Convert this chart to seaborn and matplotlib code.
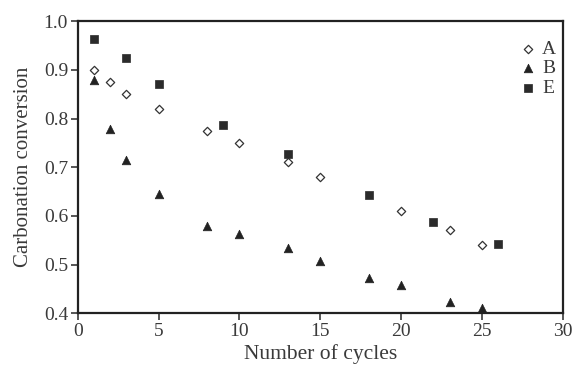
import pandas as pd
import matplotlib
matplotlib.use("Agg")
import matplotlib.pyplot as plt
import seaborn as sns

# cycles and carbonation conversion
cycles_a = [1, 2, 3, 5, 8, 10, 13, 15, 20, 23, 25]
conv_a = [0.900, 0.875, 0.850, 0.820, 0.775, 0.750, 0.710, 0.680, 0.610, 0.570, 0.540]

cycles_b = [1, 2, 3, 5, 8, 10, 13, 15, 18, 20, 23, 25]
conv_b = [0.880, 0.778, 0.715, 0.645, 0.580, 0.563, 0.533, 0.508, 0.473, 0.458, 0.422, 0.410]

cycles_e = [1, 3, 5, 9, 13, 18, 22, 26]
conv_e = [0.963, 0.925, 0.870, 0.787, 0.727, 0.643, 0.588, 0.543]

x_ticks = [0, 5, 10, 15, 20, 25, 30]
y_ticks = [0.4, 0.5, 0.6, 0.7, 0.8, 0.9, 1.0]

df = pd.concat([
    pd.DataFrame({"cycles": cycles_a, "conv": conv_a, "sample": "A"}),
    pd.DataFrame({"cycles": cycles_b, "conv": conv_b, "sample": "B"}),
    pd.DataFrame({"cycles": cycles_e, "conv": conv_e, "sample": "E"}),
], ignore_index=True)

sns.set_theme(style="white")
plt.rcParams["font.family"] = ["Liberation Serif", "DejaVu Serif"]

fig = plt.figure(figsize=(5.72, 3.65), dpi=100)
ax = fig.add_axes([0.136, 0.142, 0.848, 0.800])

styles = {
    "A": dict(marker="D", s=18, facecolor="white", edgecolor="#333333", linewidth=0.9),
    "B": dict(marker="^", s=38, facecolor="#222222", edgecolor="#222222", linewidth=0.5),
    "E": dict(marker="s", s=36, facecolor="#2b2b2b", edgecolor="#2b2b2b", linewidth=0.5),
}
for name, st in styles.items():
    sub = df[df["sample"] == name]
    sns.scatterplot(data=sub, x="cycles", y="conv", ax=ax, label=name,
                    marker=st["marker"], s=st["s"], color=st["facecolor"],
                    edgecolor=st["edgecolor"], linewidth=st["linewidth"])

ax.set_xlim(0, 30)
ax.set_ylim(0.4, 1.0)
ax.set_xticks(x_ticks)
ax.set_yticks(y_ticks)
ax.set_xticklabels([str(t) for t in x_ticks])
ax.set_yticklabels([f"{t:.1f}" for t in y_ticks])
ax.tick_params(direction="out", length=5, width=1.2, labelsize=14,
               colors="#3a3a3a", bottom=True, left=True, pad=2)
for sp in ax.spines.values():
    sp.set_color("#222222")
    sp.set_linewidth(1.6)

ax.set_xlabel("Number of cycles", fontsize=15.5, color="#3a3a3a", labelpad=3)
ax.set_ylabel("Carbonation conversion", fontsize=15, color="#3a3a3a", labelpad=8)

leg = ax.legend(loc="upper right", bbox_to_anchor=(0.998, 0.955), frameon=False,
                fontsize=14, handletextpad=0.1, labelspacing=0.1,
                borderaxespad=0, handlelength=1.2, borderpad=0.3)
for t in leg.get_texts():
    t.set_color("#3a3a3a")

fig.savefig("out.png", dpi=100)
